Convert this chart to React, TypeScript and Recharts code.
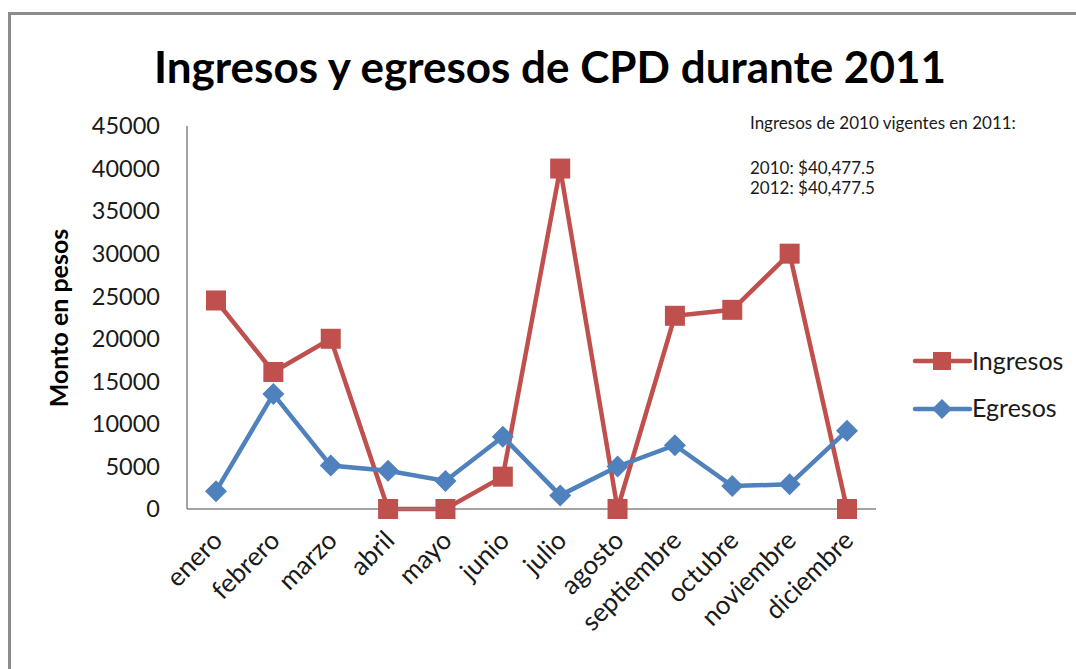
import { Line, LineChart, XAxis, YAxis } from "recharts";

const MONTHS = [
  "enero",
  "febrero",
  "marzo",
  "abril",
  "mayo",
  "junio",
  "julio",
  "agosto",
  "septiembre",
  "octubre",
  "noviembre",
  "diciembre",
];
const INGRESOS = [24500, 16100, 20000, 0, 0, 3800, 40000, 0, 22700, 23400, 30000, 0];
const EGRESOS = [2100, 13500, 5100, 4500, 3300, 8500, 1600, 5000, 7500, 2700, 2900, 9200];
const Y_TICKS = [0, 5000, 10000, 15000, 20000, 25000, 30000, 35000, 40000, 45000];
const NOTE_LINES = ["Ingresos de 2010 vigentes en 2011:", "2010: $40,477.5", "2012: $40,477.5"];

const RED = "#C0504D";
const BLUE = "#4F81BD";
const AXIS = "#868686";
const TEXT = "#1a1a1a";
const FONT = "Lato, 'Open Sans', sans-serif";

const data = MONTHS.map((mes, i) => ({
  mes,
  ingresos: INGRESOS[i],
  egresos: EGRESOS[i],
}));

function SquareDot({ cx, cy }: { cx?: number; cy?: number }) {
  if (cx == null || cy == null) return null;
  return <rect x={cx - 10} y={cy - 10} width={20} height={20} fill={RED} />;
}

function DiamondDot({ cx, cy }: { cx?: number; cy?: number }) {
  if (cx == null || cy == null) return null;
  const r = 11;
  return (
    <polygon
      points={`${cx},${cy - r} ${cx + r},${cy} ${cx},${cy + r} ${cx - r},${cy}`}
      fill={BLUE}
    />
  );
}

function MonthTick({
  x,
  y,
  payload,
}: {
  x?: number;
  y?: number;
  payload?: { value: string };
}) {
  if (x === undefined || y === undefined || !payload) return null;
  const ax = x + 8;
  return (
    <text
      x={ax}
      y={y}
      transform={`rotate(-45, ${ax}, ${y})`}
      textAnchor="end"
      fontSize={26}
      fontFamily={FONT}
      fill={TEXT}
    >
      {payload.value}
    </text>
  );
}

export default function App() {
  return (
    <div
      style={{
        position: "fixed",
        left: 0,
        top: 0,
        width: 1076,
        height: 669,
        overflow: "hidden",
        background: "#fff",
      }}
    >
      {/* chart frame, runs off the right and bottom edges */}
      <div
        style={{
          position: "absolute",
          left: 8,
          top: 12,
          width: 1120,
          height: 720,
          border: "3px solid #8c8c8c",
          boxSizing: "border-box",
        }}
      />

      <div style={{ position: "absolute", left: 0, top: 0 }}>
        <LineChart
          width={1076}
          height={669}
          data={data}
          margin={{ top: 126, right: 200, bottom: 0, left: 0 }}
        >
          <XAxis
            dataKey="mes"
            height={160}
            interval={0}
            padding={{ left: 29, right: 29 }}
            axisLine={{ stroke: AXIS, strokeWidth: 1.5 }}
            tickLine={false}
            tickSize={0}
            tickMargin={33}
            tick={<MonthTick />}
          />
          <YAxis
            width={187}
            domain={[0, 45000]}
            ticks={Y_TICKS}
            interval={0}
            axisLine={{ stroke: AXIS, strokeWidth: 1.5 }}
            tickLine={false}
            tickSize={0}
            tickMargin={27}
            tick={{ fontSize: 23.5, fill: TEXT, fontFamily: FONT }}
          />
          <Line
            dataKey="ingresos"
            stroke={RED}
            strokeWidth={4.5}
            dot={<SquareDot />}
            activeDot={false}
            isAnimationActive={false}
          />
          <Line
            dataKey="egresos"
            stroke={BLUE}
            strokeWidth={4.5}
            dot={<DiamondDot />}
            activeDot={false}
            isAnimationActive={false}
          />
        </LineChart>
      </div>

      <svg
        width={1076}
        height={669}
        style={{ position: "absolute", left: 0, top: 0, pointerEvents: "none" }}
        fontFamily={FONT}
      >
        <text x={550} y={83} textAnchor="middle" fontSize={44} fontWeight={700} fill="#000">
          Ingresos y egresos de CPD durante 2011
        </text>

        <text
          x={68}
          y={318}
          transform="rotate(-90, 68, 318)"
          textAnchor="middle"
          fontSize={25}
          fontWeight={700}
          fill="#000"
        >
          Monto en pesos
        </text>

        {/* note in the top right corner */}
        <text x={750} y={129} fontSize={17} fill={TEXT}>
          {NOTE_LINES[0]}
        </text>
        <text x={750} y={174} fontSize={17} fill={TEXT}>
          {NOTE_LINES[1]}
        </text>
        <text x={750} y={194} fontSize={17} fill={TEXT}>
          {NOTE_LINES[2]}
        </text>

        {/* legend */}
        <line x1={915} y1={361} x2={970} y2={361} stroke={RED} strokeWidth={4.5} strokeLinecap="round" />
        <rect x={933} y={352} width={18} height={18} fill={RED} />
        <text x={972} y={370} fontSize={25} fill={TEXT}>
          Ingresos
        </text>
        <line x1={915} y1={409} x2={970} y2={409} stroke={BLUE} strokeWidth={4.5} strokeLinecap="round" />
        <polygon points="942,399 952,409 942,419 932,409" fill={BLUE} />
        <text x={972} y={417} fontSize={25} fill={TEXT}>
          Egresos
        </text>
      </svg>
    </div>
  );
}
